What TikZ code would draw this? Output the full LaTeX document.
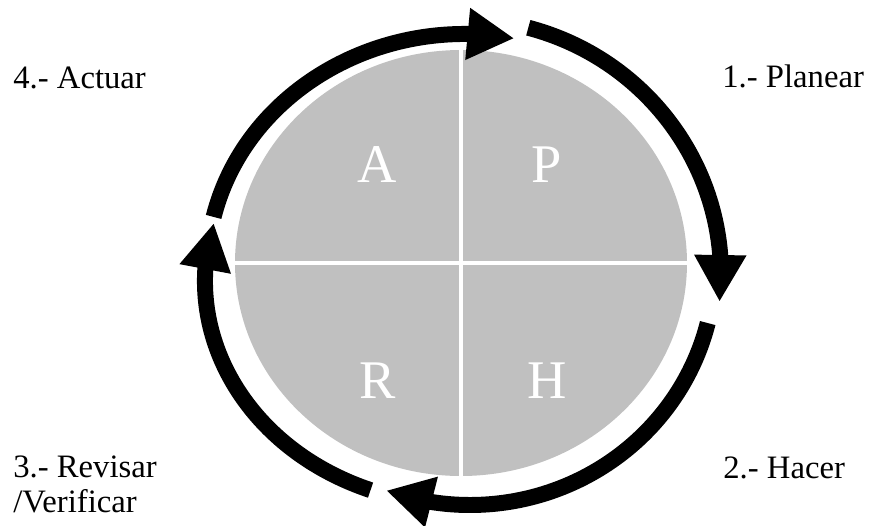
\documentclass[tikz,border=0pt]{standalone}
\usepackage{fontspec}
\setmainfont{Liberation Serif}
\usetikzlibrary{arrows.meta,bending}
\definecolor{discgray}{HTML}{C0C0C0}
\tikzset{
    cyclearrow/.style={line width=9.1pt, -{Triangle[width=27.8pt,length=26.6pt]}},
    steplabel/.style={anchor=base west, inner sep=0pt, align=left,
        font=\fontsize{18.6}{19.8}\selectfont},
    phase/.style={anchor=base, inner sep=0pt, text=white,
        font=\fontsize{31}{36}\selectfont}
}
\begin{document}
\begin{tikzpicture}[x=0.02cm, y=0.02cm]
    \useasboundingbox (-461,-262) rectangle (411,263);
    % Disc cut in four quarters
    \fill[discgray] (0,0) ellipse (226 and 213);
    \draw[white, line width=2.3pt] (0,214) -- (0,-214) (-227,0) -- (227,0);
    \node[phase] (act) at (-84,81) {A};
    \node[phase] (plan) at (86,81) {P};
    \node[phase] (check) at (-83,-135) {R};
    \node[phase] (do) at (86,-135) {H};
    % Four arrows running clockwise
    \foreach \cx/\cy/\rx/\ry/\from/\to in {4/-7/258/236/167/79, 0/-12/260/256/75/-6,
                                           9/-2/245/240/-14/-110, 2/-18/258/224/249/165} {
        \draw[cyclearrow] (\cx,\cy) ++({\rx*cos(\from)},{\ry*sin(\from)})
            arc[start angle=\from, end angle=\to, x radius=\rx, y radius=\ry];
    }
    % Step names
    \node[steplabel] (planlabel) at (261,176) {1.- Planear};
    \node[steplabel] (dolabel) at (262,-215) {2.- Hacer};
    \node[steplabel] (checklabel) at (-448,-249) {3.- Revisar\\/Verificar};
    \node[steplabel] (actlabel) at (-448,175) {4.- Actuar};
\end{tikzpicture}
\end{document}
